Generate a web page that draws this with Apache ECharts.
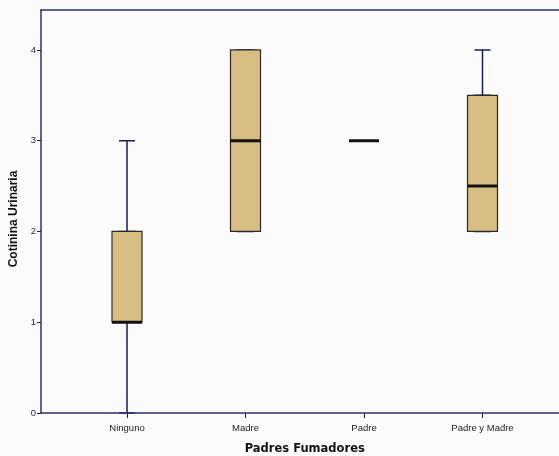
<!DOCTYPE html>
<html>
<head>
<meta charset="utf-8">
<script src="https://cdn.jsdelivr.net/npm/echarts@6/dist/echarts.min.js"></script>
<style>
html,body{margin:0;padding:0;background:#fbfbfb;}
#chart{width:559px;height:456px;}
</style>
</head>
<body>
<div id="chart"></div>
<script>
// Urinary cotinine by smoking parents
const categories = ['Ninguno', 'Madre', 'Padre', 'Padre y Madre'];
// [min, Q1, median, Q3, max]
const stats = [
  [0, 1, 1, 2, 3],
  [2, 2, 3, 4, 4],
  [3, 3, 3, 3, 3],
  [2, 2, 2.5, 3.5, 4]
];
const yTicks = [0, 1, 2, 3, 4];
const yMax = 4.44;

// box body only (whiskers collapsed inside the box)
const bodies = stats.map(s => [s[1], s[1], s[2], s[3], s[3]]);
// median line
const medians = stats.map(s => [s[2], s[2], s[2], s[2], s[2]]);

const chart = echarts.init(document.getElementById('chart'));
const axisColor = '#2f2f6e';
const plotTop = 10, plotBottom = 43;

// identical hidden category axes so the three layers overlap instead of sitting side by side
const hiddenCat = () => ({
  gridIndex: 1, type: 'category', data: categories, boundaryGap: true, show: false
});

chart.setOption({
  backgroundColor: '#fbfbfb',
  animation: false,
  grid: [
    // frame grid: y axis, baseline and top border
    { left: 41, right: 0, top: plotTop, bottom: plotBottom, containLabel: false, outerBoundsMode: 'none' },
    // category grid holding the boxes
    { left: 67.75, width: 474, top: plotTop, bottom: plotBottom, containLabel: false, outerBoundsMode: 'none' }
  ],
  xAxis: [
    {
      gridIndex: 0, type: 'value', min: 0, max: 1, z: 5,
      axisLine: { show: true, onZero: false, lineStyle: { color: axisColor, width: 1.5 } },
      axisTick: { show: false }, axisLabel: { show: false }, splitLine: { show: false }
    },
    {
      gridIndex: 1, type: 'category', data: categories, boundaryGap: true,
      name: 'Padres Fumadores',
      nameLocation: 'middle',
      nameGap: 30,
      nameTextStyle: { fontFamily: 'DejaVu Sans', fontWeight: 'bold', fontSize: 11.5, color: '#111' },
      axisLine: { show: false },
      axisTick: { show: true, alignWithLabel: true, length: 5, lineStyle: { color: '#222' } },
      axisLabel: { fontFamily: 'Liberation Sans', fontSize: 9.5, color: '#222', margin: 10 },
      splitLine: { show: false }
    },
    {
      gridIndex: 0, type: 'value', position: 'top', min: 0, max: 1,
      axisLine: { show: true, onZero: false, lineStyle: { color: axisColor, width: 1.5 } },
      axisTick: { show: false }, axisLabel: { show: false }, splitLine: { show: false }
    },
    hiddenCat(),
    hiddenCat()
  ],
  yAxis: [
    {
      gridIndex: 0, type: 'value', min: 0, max: yMax,
      name: 'Cotinina Urinaria',
      nameLocation: 'middle',
      nameGap: 13,
      nameTextStyle: { fontFamily: 'Liberation Sans', fontWeight: 'bold', fontSize: 12, color: '#111', padding: [0, 15, 0, 0] },
      axisLine: { show: true, onZero: false, lineStyle: { color: axisColor, width: 1.5 } },
      axisTick: { show: true, length: 4, customValues: yTicks, lineStyle: { color: '#222' } },
      axisLabel: {
        fontFamily: 'Liberation Sans', fontSize: 9.5, color: '#2a2a55', margin: 5,
        customValues: yTicks
      },
      splitLine: { show: false }
    },
    {
      gridIndex: 1, type: 'value', min: 0, max: yMax,
      show: false, splitLine: { show: false }
    }
  ],
  series: [
    {
      type: 'boxplot', xAxisIndex: 1, yAxisIndex: 1,
      data: stats,
      boxWidth: [16, 16],
      itemStyle: { color: '#d8bd82', borderColor: '#1a1a55', borderWidth: 1.5 }
    },
    {
      type: 'boxplot', xAxisIndex: 3, yAxisIndex: 1,
      data: bodies,
      boxWidth: [30, 30],
      itemStyle: { color: '#d8bd82', borderColor: '#2a2a2a', borderWidth: 1.2 }
    },
    {
      type: 'boxplot', xAxisIndex: 4, yAxisIndex: 1,
      data: medians,
      boxWidth: [30, 30],
      itemStyle: { color: '#111', borderColor: '#111', borderWidth: 3 }
    }
  ]
});
</script>
</body>
</html>
